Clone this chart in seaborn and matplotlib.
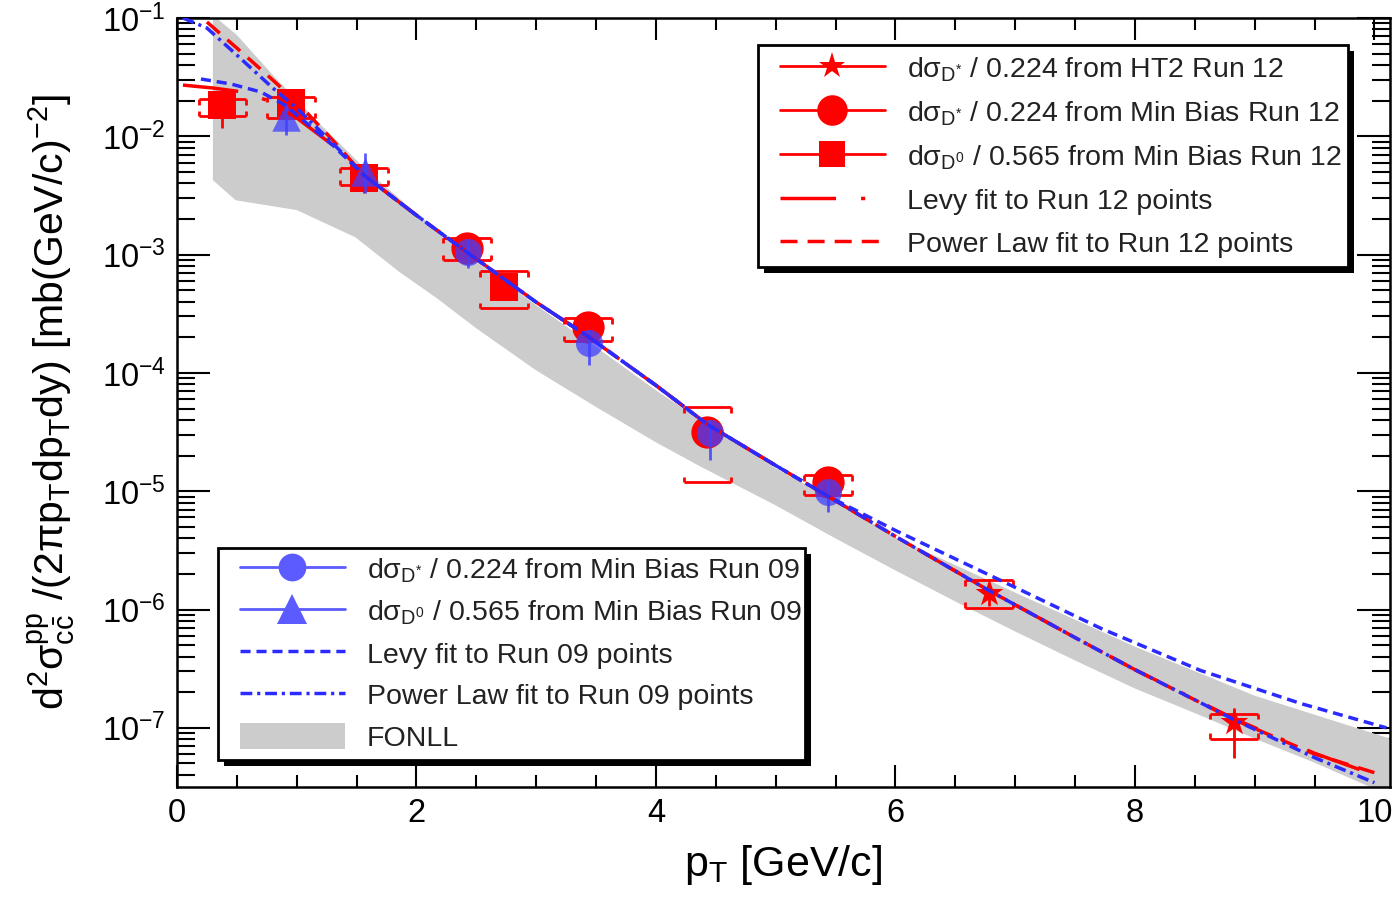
import numpy as np
import matplotlib
matplotlib.use("Agg")
import matplotlib.pyplot as plt
import seaborn as sns
from matplotlib.lines import Line2D
from matplotlib.patches import Patch, Rectangle
from matplotlib.ticker import (MultipleLocator, NullFormatter, FixedLocator,
                               LogFormatterSciNotation)

# ---------------- data ----------------
# Run 12, D0 / 0.565, Min Bias (red squares)
r12_d0_pt = [0.38, 0.95, 1.56, 2.73]
r12_d0_y = [1.84e-2, 1.91e-2, 4.43e-3, 5.30e-4]
r12_d0_sys_hi = [2.06e-2, 2.15e-2, 5.38e-3, 7.24e-4]
r12_d0_sys_lo = [1.48e-2, 1.43e-2, 3.86e-3, 3.52e-4]
r12_d0_stat_hi = [1.95e-2, 2.00e-2, 4.70e-3, 5.80e-4]
r12_d0_stat_lo = [1.17e-2, 1.75e-2, 3.30e-3, 4.40e-4]

# Run 12, D* / 0.224, Min Bias (red circles)
r12_ds_pt = [2.42, 3.43, 4.43, 5.44]
r12_ds_y = [1.13e-3, 2.43e-4, 3.14e-5, 1.19e-5]
r12_ds_sys_hi = [1.38e-3, 2.90e-4, 5.12e-5, 1.36e-5]
r12_ds_sys_lo = [8.97e-4, 1.85e-4, 1.19e-5, 9.21e-6]
r12_ds_stat_hi = [1.20e-3, 2.60e-4, 3.50e-5, 1.28e-5]
r12_ds_stat_lo = [1.05e-3, 2.25e-4, 2.80e-5, 1.10e-5]

# Run 12, D* / 0.224, HT2 (red stars)
r12_ht_pt = [6.78, 8.83]
r12_ht_y = [1.39e-6, 1.11e-7]
r12_ht_sys_hi = [1.76e-6, 1.32e-7]
r12_ht_sys_lo = [1.04e-6, 8.11e-8]
r12_ht_stat_hi = [1.66e-6, 1.48e-7]
r12_ht_stat_lo = [1.08e-6, 5.60e-8]

# Run 09, D* / 0.224 (blue circles)
r09_ds_pt = [2.43, 3.44, 4.45, 5.44]
r09_ds_y = [1.05e-3, 1.78e-4, 3.08e-5, 9.77e-6]
r09_ds_stat_hi = [1.32e-3, 2.29e-4, 3.97e-5, 1.23e-5]
r09_ds_stat_lo = [7.67e-4, 1.16e-4, 1.82e-5, 6.62e-6]

# Run 09, D0 / 0.565 (blue triangles)
r09_d0_pt = [0.91, 1.57]
r09_d0_y = [1.45e-2, 4.98e-3]
r09_d0_stat_hi = [1.84e-2, 7.21e-3]
r09_d0_stat_lo = [1.02e-2, 3.30e-3]

# Fit curves
pl12_pt = [0.25, 0.5, 0.8, 1.0, 1.3, 1.56, 2.0, 2.42, 3.0, 3.43, 4.0, 4.43, 5.0, 5.44,
           6.0, 6.78, 7.5, 8.0, 8.83, 9.5, 10.0]
pl12_y = [9.25e-2, 5.57e-2, 2.99e-2, 1.95e-2, 9.29e-3, 4.70e-3, 2.15e-3, 1.05e-3, 3.96e-4,
          2.04e-4, 7.85e-5, 3.67e-5, 1.65e-5, 9.04e-6, 4.15e-6, 1.45e-6, 5.79e-7, 3.10e-7,
          1.17e-7, 6.00e-8, 4.18e-8]

levy12_pt = [0.05, 0.3, 0.55, 0.75, 1.0, 1.3, 1.56, 2.0, 2.42, 3.0, 3.43, 4.0, 4.43, 5.0,
             5.44, 6.0, 6.78, 7.5, 8.0, 8.83, 9.5, 10.0]
levy12_y = [2.71e-2, 2.56e-2, 2.37e-2, 2.02e-2, 1.43e-2, 8.43e-3, 4.70e-3, 2.15e-3, 1.05e-3,
            3.96e-4, 2.04e-4, 7.85e-5, 3.67e-5, 1.65e-5, 9.04e-6, 4.15e-6, 1.45e-6, 5.79e-7,
            3.10e-7, 1.19e-7, 6.10e-8, 4.00e-8]

pl09_pt = [0.05, 0.25, 0.5, 0.8, 1.0, 1.3, 1.56, 2.0, 2.42, 3.0, 3.43, 4.0, 4.43, 5.0, 5.44,
           6.0, 6.78, 7.5, 8.0, 8.83, 9.5, 10.0]
pl09_y = [1.00e-1, 8.23e-2, 4.86e-2, 2.56e-2, 1.73e-2, 8.75e-3, 4.70e-3, 2.15e-3, 1.05e-3,
          3.96e-4, 2.04e-4, 7.85e-5, 3.67e-5, 1.65e-5, 9.04e-6, 4.15e-6, 1.45e-6, 5.79e-7,
          3.10e-7, 1.17e-7, 5.60e-8, 3.44e-8]

levy09_pt = [0.2, 0.45, 0.7, 0.9, 1.1, 1.3, 1.56, 2.0, 2.42, 3.0, 3.43, 4.0, 4.43, 5.0, 5.44,
             6.0, 6.88, 7.72, 8.55, 9.39, 10.1]
levy09_y = [3.05e-2, 2.77e-2, 2.37e-2, 1.84e-2, 1.25e-2, 8.43e-3, 4.70e-3, 2.15e-3, 1.05e-3,
            3.96e-4, 2.04e-4, 7.85e-5, 3.67e-5, 1.65e-5, 9.04e-6, 4.66e-6, 1.76e-6, 6.90e-7,
            3.05e-7, 1.60e-7, 1.00e-7]

# FONLL band
fonll_up_pt = [0.3, 0.5, 0.8, 1.2, 1.6, 2.0, 2.4, 3.0, 3.5, 4.0, 4.5, 5.0, 5.5, 6.0, 7.0, 8.0,
               9.0, 10.13]
fonll_up_y = [1.06e-1, 7.18e-2, 3.30e-2, 1.25e-2, 4.98e-3, 2.24e-3, 1.03e-3, 3.73e-4, 1.65e-4,
              7.13e-5, 3.27e-5, 1.56e-5, 8.36e-6, 4.06e-6, 1.39e-6, 4.86e-7, 1.87e-7, 8.11e-8]
fonll_lo_pt = [0.3, 0.49, 1.0, 1.49, 1.86, 2.17, 2.5, 3.0, 3.5, 4.0, 4.37, 5.0, 5.5, 6.0, 6.5,
               7.0, 7.5, 8.0, 8.55, 9.0, 9.5, 10.13]
fonll_lo_y = [4.26e-3, 2.88e-3, 2.38e-3, 1.40e-3, 7.10e-4, 4.28e-4, 2.38e-4, 1.05e-4, 5.15e-5,
              2.59e-5, 1.62e-5, 7.59e-6, 3.99e-6, 2.14e-6, 1.17e-6, 6.52e-7, 3.71e-7, 2.15e-7,
              1.27e-7, 8.11e-8, 5.08e-8, 2.67e-8]

x_ticks = [0, 2, 4, 6, 8, 10]
y_ticks = [1e-7, 1e-6, 1e-5, 1e-4, 1e-3, 1e-2, 1e-1]

legend_up_labels = [
    "dσ$_{D^{*}}$ / 0.224 from HT2 Run 12",
    "dσ$_{D^{*}}$ / 0.224 from Min Bias Run 12",
    "dσ$_{D^{0}}$ / 0.565 from Min Bias Run 12",
    "Levy fit to Run 12 points",
    "Power Law fit to Run 12 points",
]
legend_lo_labels = [
    "dσ$_{D^{*}}$ / 0.224 from Min Bias Run 09",
    "dσ$_{D^{0}}$ / 0.565 from Min Bias Run 09",
    "Levy fit to Run 09 points",
    "Power Law fit to Run 09 points",
    "FONLL",
]

# ---------------- style ----------------
sns.set_theme(style="ticks")
plt.rcParams["font.family"] = ["Liberation Sans", "DejaVu Sans"]
plt.rcParams["mathtext.fontset"] = "custom"
plt.rcParams["mathtext.rm"] = "Liberation Sans"
plt.rcParams["mathtext.it"] = "Liberation Sans:italic"
plt.rcParams["mathtext.bf"] = "Liberation Sans:bold"
plt.rcParams["mathtext.default"] = "regular"

RED = "#ff0000"
BLUE_M = (0.25, 0.25, 1.0)
BLUE_L = "#2b2bff"
GRAY = "#cccccc"
LW = 2.5

LS_LEVY12 = (0, (16, 7.2, 1.2, 7.2))
LS_PL12 = (0, (4.9, 2.9))
LS_LEVY09 = (0, (2.9, 1.7))
LS_PL09 = (0, (3.4, 1.4, 0.9, 1.4))

YMIN, YMAX = 10 ** -7.5, 0.1

fig = plt.figure(figsize=(13.93, 8.97), dpi=100)
ax = fig.add_axes([0.12706, 0.12263, 0.87078, 0.85730])
ax.set_yscale("log")
ax.set_xlim(0, 10.13)
ax.set_ylim(YMIN, YMAX)

# FONLL band
ax.fill(fonll_up_pt + fonll_lo_pt[::-1], fonll_up_y + fonll_lo_y[::-1],
        color=GRAY, lw=0, zorder=1)


def brackets(x, lo, hi, color, hw=0.2, tick=0.045, lw=2.0, z=3):
    x = np.asarray(x, float)
    lo = np.asarray(lo, float)
    hi = np.asarray(hi, float)
    f = 10 ** tick
    ax.hlines(hi, x - hw, x + hw, color=color, lw=lw, zorder=z)
    ax.hlines(lo, x - hw, x + hw, color=color, lw=lw, zorder=z)
    ax.vlines(np.r_[x - hw, x + hw], np.r_[hi, hi] / f, np.r_[hi, hi], color=color, lw=lw, zorder=z)
    ax.vlines(np.r_[x - hw, x + hw], np.r_[lo, lo], np.r_[lo, lo] * f, color=color, lw=lw, zorder=z)


# Run 12 (red)
brackets(r12_d0_pt, r12_d0_sys_lo, r12_d0_sys_hi, RED)
brackets(r12_ds_pt, r12_ds_sys_lo, r12_ds_sys_hi, RED)
brackets(r12_ht_pt, r12_ht_sys_lo, r12_ht_sys_hi, RED)
ax.vlines(r12_d0_pt, r12_d0_stat_lo, r12_d0_stat_hi, color=RED, lw=2, zorder=3)
ax.vlines(r12_ds_pt, r12_ds_stat_lo, r12_ds_stat_hi, color=RED, lw=2, zorder=3)
ax.vlines(r12_ht_pt, r12_ht_stat_lo, r12_ht_stat_hi, color=RED, lw=2, zorder=3)
sns.scatterplot(x=r12_d0_pt, y=r12_d0_y, marker="s", s=380, color=RED, linewidth=0,
                zorder=3, ax=ax, legend=False)
sns.scatterplot(x=r12_ds_pt, y=r12_ds_y, marker="o", s=540, color=RED, linewidth=0,
                zorder=3, ax=ax, legend=False)
sns.scatterplot(x=r12_ht_pt, y=r12_ht_y, marker="*", s=440, color=RED, linewidth=0,
                zorder=3, ax=ax, legend=False)

# Run 09 (blue)
ax.vlines(r09_ds_pt, r09_ds_stat_lo, r09_ds_stat_hi, color=BLUE_M, alpha=0.85, lw=2, zorder=4)
ax.vlines(r09_d0_pt, r09_d0_stat_lo, r09_d0_stat_hi, color=BLUE_M, alpha=0.85, lw=2, zorder=4)
sns.scatterplot(x=r09_ds_pt, y=r09_ds_y, marker="o", s=380, color=BLUE_M, alpha=0.75,
                linewidth=0, zorder=4, ax=ax, legend=False)
sns.scatterplot(x=r09_d0_pt, y=r09_d0_y, marker="^", s=420, color=BLUE_M, alpha=0.75,
                linewidth=0, zorder=4, ax=ax, legend=False)

# fit curves
sns.lineplot(x=levy12_pt, y=levy12_y, color=RED, lw=LW, linestyle=LS_LEVY12,
             sort=False, estimator=None, zorder=5, ax=ax, legend=False)
sns.lineplot(x=pl12_pt, y=pl12_y, color=RED, lw=LW, linestyle=LS_PL12,
             sort=False, estimator=None, zorder=5, ax=ax, legend=False)
sns.lineplot(x=levy09_pt, y=levy09_y, color=BLUE_L, lw=LW, linestyle=LS_LEVY09,
             sort=False, estimator=None, zorder=5, ax=ax, legend=False)
sns.lineplot(x=pl09_pt, y=pl09_y, color=BLUE_L, lw=LW, linestyle=LS_PL09,
             sort=False, estimator=None, zorder=5, ax=ax, legend=False)

ax.set_xlim(0, 10.13)
ax.set_ylim(YMIN, YMAX)

# ticks & spines (only ticks inside the view)
y_minor = [m * d for d in [1e-8, 1e-7, 1e-6, 1e-5, 1e-4, 1e-3, 1e-2] for m in range(2, 10)]
y_minor = [v for v in y_minor if YMIN <= v <= YMAX]
ax.xaxis.set_major_locator(FixedLocator(x_ticks))
ax.xaxis.set_minor_locator(MultipleLocator(0.5))
ax.yaxis.set_major_locator(FixedLocator(y_ticks))
ax.yaxis.set_major_formatter(LogFormatterSciNotation())
ax.yaxis.set_minor_locator(FixedLocator(y_minor))
ax.yaxis.set_minor_formatter(NullFormatter())
ax.tick_params(axis="both", which="both", direction="in", top=True, right=True,
               bottom=True, left=True, width=1.5, color="black", labelcolor="black")
ax.tick_params(axis="x", which="major", length=16, labelsize=23.5, pad=8)
ax.tick_params(axis="x", which="minor", length=8.5)
ax.tick_params(axis="y", which="major", length=24, labelsize=23.5, pad=8)
ax.tick_params(axis="y", which="minor", length=13)
for sp in ax.spines.values():
    sp.set_linewidth(1.8)
    sp.set_color("black")

ax.set_xlabel("p$_{T}$ [GeV/c]", fontsize=31, color="black")
ax.xaxis.set_label_coords(0.5, -0.073)
ax.set_ylabel(r"d$^{2}$σ$^{pp}_{c\bar{c}}$ /(2πp$_{T}$dp$_{T}$dy) [mb(GeV/c)$^{-2}$]",
              fontsize=29.5, color="black")
ax.yaxis.set_label_coords(-0.0816, 0.5)


# legend frames with drop shadows
def frame(x0, y0, w, h):
    dx, dy = 0.0050, 0.0078
    ax.add_patch(Rectangle((x0 + dx, y0 - dy), w, h, transform=ax.transAxes,
                           facecolor="black", lw=0, zorder=6, clip_on=False))
    ax.add_patch(Rectangle((x0, y0), w, h, transform=ax.transAxes, facecolor="white",
                           edgecolor="black", lw=2, zorder=6.1, clip_on=False))


frame(0.4790, 0.6762, 0.4864, 0.2887)
frame(0.0338, 0.0351, 0.4839, 0.2757)

up_handles = [
    Line2D([], [], color=RED, lw=2, marker="*", markersize=20, markeredgewidth=0),
    Line2D([], [], color=RED, lw=2, marker="o", markersize=22, markeredgewidth=0),
    Line2D([], [], color=RED, lw=2, marker="s", markersize=18.5, markeredgewidth=0),
    Line2D([], [], color=RED, lw=LW, linestyle=LS_LEVY12),
    Line2D([], [], color=RED, lw=LW, linestyle=LS_PL12),
]
lo_handles = [
    Line2D([], [], color="#5b5bff", lw=2, marker="o", markersize=20, markeredgewidth=0),
    Line2D([], [], color="#5b5bff", lw=2, marker="^", markersize=21, markeredgewidth=0),
    Line2D([], [], color=BLUE_L, lw=LW, linestyle=LS_LEVY09),
    Line2D([], [], color=BLUE_L, lw=LW, linestyle=LS_PL09),
    Patch(facecolor=GRAY, edgecolor="none"),
]

leg_kw = dict(frameon=False, fontsize=20.5, handlelength=3.68, handletextpad=0.77,
              borderpad=0, borderaxespad=0, loc="upper left",
              labelcolor="#222222", handleheight=1.0)
leg1 = ax.legend(up_handles, legend_up_labels, bbox_to_anchor=(0.4971, 0.9519),
                 labelspacing=0.52, **leg_kw)
leg1.set_zorder(7)
ax.add_artist(leg1)
leg2 = ax.legend(lo_handles, legend_lo_labels, bbox_to_anchor=(0.0519, 0.3004),
                 labelspacing=0.46, **leg_kw)
leg2.set_zorder(7)

fig.savefig("out.png", dpi=100)
